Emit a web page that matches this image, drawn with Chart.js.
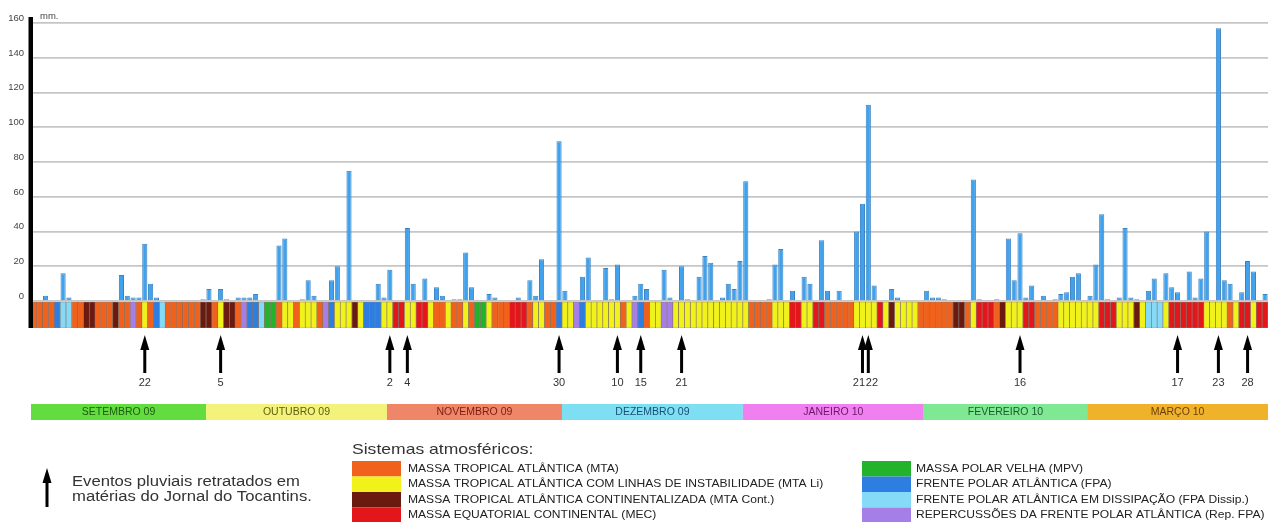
<!DOCTYPE html>
<html>
<head>
<meta charset="utf-8">
<script src="https://cdn.jsdelivr.net/npm/chart.js@4.4.1/dist/chart.umd.min.js"></script>
<style>
  html, body { margin: 0; padding: 0; background: #fff; }
  canvas { display: block; }
</style>
</head>
<body>
<canvas id="rainChart" width="1268" height="522"></canvas>
<script>
// ==========================
// Data
// ==========================

const monthNames = ["SETEMBRO 09", "OUTUBRO 09", "NOVEMBRO 09", "DEZEMBRO 09", "JANEIRO 10", "FEVEREIRO 10", "MARÇO 10"];
const monthDays = [30, 31, 30, 31, 31, 28, 31];

// daily rain (mm)
const rainSep = [0, 0, 3, 0, 0, 16, 2, 0, 0, 0, 0, 0, 0, 0, 0, 15, 3, 2, 2, 33, 10, 2, 0, 0, 0, 0, 0, 0, 0, 1];
const rainOct = [7, 0, 7, 1, 0, 2, 2, 2, 4, 0, 0, 0, 32, 36, 0, 0, 1, 12, 3, 0, 0, 12, 20, 0, 75, 0, 0, 0, 0, 10, 2];
const rainNov = [18, 0, 0, 42, 10, 0, 13, 0, 8, 3, 0, 1, 1, 28, 8, 0, 0, 4, 2, 0, 0, 0, 2, 0, 12, 3, 24, 0, 0, 92];
const rainDec = [6, 0, 0, 14, 25, 0, 0, 19, 1, 21, 0, 0, 3, 10, 7, 0, 0, 18, 2, 0, 20, 1, 0, 14, 26, 22, 0, 2, 10, 7, 23];
const rainJan = [69, 0, 0, 0, 1, 21, 30, 0, 6, 0, 14, 10, 0, 35, 6, 0, 6, 0, 0, 40, 56, 113, 9, 0, 0, 7, 2, 0, 0, 0, 0];
const rainFeb = [6, 2, 2, 1, 0, 0, 0, 0, 70, 1, 0, 0, 1, 0, 36, 12, 39, 2, 9, 0, 3, 0, 1, 4, 5, 14, 16, 0];
const rainMar = [3, 21, 50, 1, 0, 2, 42, 2, 1, 0, 6, 13, 0, 16, 8, 5, 0, 17, 2, 13, 40, 0, 157, 12, 10, 0, 5, 23, 17, 0, 4];

// atmospheric system of each day
const sysSep = ["mta", "mta", "mta", "mta", "fpa", "dis", "dis", "mta", "mta", "cnt",
  "cnt", "mta", "mta", "mta", "cnt", "mta", "mta", "rep", "mta", "li",
  "mta", "fpa", "dis", "mta", "mta", "mta", "mta", "mta", "mta", "cnt"];
const sysOct = ["cnt", "mta", "li", "cnt", "cnt", "mta", "rep", "fpa", "fpa", "dis",
  "mpv", "mpv", "mta", "li", "li", "mta", "li", "li", "li", "mta",
  "rep", "fpa", "li", "li", "li", "cnt", "li", "fpa", "fpa", "fpa", "li"];
const sysNov = ["li", "mec", "mec", "li", "li", "mec", "mec", "li", "mta", "mta",
  "li", "mta", "mta", "li", "mta", "mpv", "mpv", "li", "mta", "mta",
  "mta", "mec", "mec", "mec", "mta", "li", "li", "mta", "mta", "fpa"];
const sysDec = ["li", "li", "rep", "fpa", "li", "li", "li", "li", "li", "li",
  "mta", "li", "rep", "fpa", "mta", "li", "li", "rep", "rep", "li",
  "li", "li", "li", "li", "li", "li", "li", "li", "li", "li", "li"];
const sysJan = ["li", "mta", "mta", "mta", "mta", "li", "li", "li", "mec", "mec",
  "li", "li", "mec", "mec", "mta", "mta", "mta", "mta", "mta", "li",
  "li", "li", "li", "mec", "li", "cnt", "li", "li", "li", "li", "mta"];
const sysFeb = ["mta", "mta", "mta", "mta", "mta", "cnt", "cnt", "mta", "li", "mec",
  "mec", "mec", "mta", "cnt", "li", "li", "li", "mec", "mec", "mta",
  "mta", "mta", "mta", "li", "li", "li", "li", "li"];
const sysMar = ["li", "li", "mec", "mec", "mec", "li", "li", "li", "cnt", "li",
  "dis", "dis", "dis", "li", "mec", "mec", "mec", "mec", "mec", "mec",
  "li", "li", "li", "li", "mta", "li", "mec", "mec", "li", "mec", "mec"];

// rain events reported in the newspaper (position in the day list, label)
const eventIdx = [19, 32, 61, 64, 90, 100, 104, 111, 142, 143, 169, 196, 203, 208];
const eventLabels = ["22", "5", "2", "4", "30", "10", "15", "21", "21", "22", "16", "17", "23", "28"];

const yTicks = [0, 20, 40, 60, 80, 100, 120, 140, 160];

const legendLeft = [
  ["mta", "MASSA TROPICAL ATLÂNTICA (MTA)"],
  ["li", "MASSA TROPICAL ATLÂNTICA COM LINHAS DE INSTABILIDADE (MTA Li)"],
  ["cnt", "MASSA TROPICAL ATLÂNTICA CONTINENTALIZADA (MTA Cont.)"],
  ["mec", "MASSA EQUATORIAL CONTINENTAL (MEC)"],
];
const legendRight = [
  ["mpv", "MASSA POLAR VELHA (MPV)"],
  ["fpa", "FRENTE POLAR ATLÂNTICA (FPA)"],
  ["dis", "FRENTE POLAR ATLÂNTICA EM DISSIPAÇÃO (FPA Dissip.)"],
  ["rep", "REPERCUSSÕES DA FRENTE POLAR ATLÂNTICA (Rep. FPA)"],
];

// ==========================
// Styles
// ==========================

const systemColors = {
  mta: "#f0621c", li: "#f0f21a", cnt: "#6b1a10", mec: "#e3161b",
  mpv: "#22b32a", fpa: "#2d7ee0", dis: "#84daf7", rep: "#a67fe6",
};
const monthColors = ["#62dc3e", "#f3f37c", "#ef8668", "#7fdff2", "#f07ff0", "#7ee892", "#f0b22a"];
const monthTextColors = ["#1f5a14", "#5e5e10", "#7a1d10", "#1a4e78", "#6a1868", "#1b5a2c", "#6a3e0c"];

const STRIP_DEPTH = 15.5;
const FONT = "'Liberation Sans', Arial, sans-serif";

// ==========================
// Build
// ==========================

const rain = [].concat(rainSep, rainOct, rainNov, rainDec, rainJan, rainFeb, rainMar);
const systems = [].concat(sysSep, sysOct, sysNov, sysDec, sysJan, sysFeb, sysMar);

const labels = [];
monthDays.forEach((n, m) => {
  for (let d = 1; d <= n; d++) labels.push(monthNames[m] + " " + d);
});

// text drawn a little wider than the font, like the scanned original
function wideText(ctx, text, x, y, sx) {
  ctx.save();
  ctx.translate(x, y);
  ctx.scale(sx, 1);
  ctx.fillText(text, 0, 0);
  ctx.restore();
}

const overlay = {
  id: "overlay",
  afterDraw(chart) {
    const ctx = chart.ctx;
    const xs = chart.scales.x;
    const ys = chart.scales.y;
    const area = chart.chartArea;
    const cell = (area.right - area.left) / labels.length;

    ctx.save();

    // y axis bar
    ctx.fillStyle = "#000";
    ctx.fillRect(area.left - 2.5, 17, 4.5, area.bottom - 17);

    // tick labels
    ctx.fillStyle = "#444";
    ctx.font = "9.5px " + FONT;
    ctx.textAlign = "right";
    ctx.textBaseline = "bottom";
    yTicks.forEach((v) => ctx.fillText(String(v), 24, ys.getPixelForValue(v)));
    ctx.textAlign = "left";
    ctx.font = "9.5px " + FONT;
    ctx.fillText("mm.", 40, 21);

    // arrows
    const arrowXs = eventIdx.map((i) => xs.getPixelForValue(i));
    arrowXs.forEach((x) => drawArrow(ctx, x, 335, 373));

    // arrow labels (push apart when too close)
    const labelXs = arrowXs.slice();
    for (let i = 1; i < labelXs.length; i++) {
      const gap = labelXs[i] - labelXs[i - 1];
      if (gap < 13) {
        labelXs[i - 1] -= (13 - gap) / 2;
        labelXs[i] += (13 - gap) / 2;
      }
    }
    ctx.fillStyle = "#333";
    ctx.font = "11px " + FONT;
    ctx.textAlign = "center";
    ctx.textBaseline = "middle";
    eventLabels.forEach((t, i) => ctx.fillText(t, labelXs[i], 383));

    // month bands
    let start = 0;
    ctx.font = "10px " + FONT;
    monthDays.forEach((n, m) => {
      const x0 = xs.getPixelForValue(start) - cell / 2;
      const x1 = xs.getPixelForValue(start + n - 1) + cell / 2;
      ctx.fillStyle = monthColors[m];
      ctx.fillRect(x0, 404, x1 - x0, 16);
      ctx.fillStyle = monthTextColors[m];
      wideText(ctx, monthNames[m], (x0 + x1) / 2, 412.5, 1.05);
      start += n;
    });

    // legend: events
    drawArrow(ctx, 47, 468, 507);
    ctx.fillStyle = "#333";
    ctx.textAlign = "left";
    ctx.font = "14px " + FONT;
    wideText(ctx, "Eventos pluviais retratados em", 72, 482, 1.19);
    wideText(ctx, "matérias do Jornal do Tocantins.", 72, 497, 1.19);

    // legend: systems
    ctx.font = "15px " + FONT;
    wideText(ctx, "Sistemas atmosféricos:", 352, 450, 1.17);
    drawLegendColumn(ctx, legendLeft, 352, 408);
    drawLegendColumn(ctx, legendRight, 862, 916);

    ctx.restore();
  },
};

function drawArrow(ctx, x, top, bottom) {
  ctx.fillStyle = "#000";
  ctx.fillRect(x - 1.5, top + 10, 3, bottom - top - 10);
  ctx.beginPath();
  ctx.moveTo(x, top);
  ctx.lineTo(x - 4.5, top + 15);
  ctx.lineTo(x + 4.5, top + 15);
  ctx.closePath();
  ctx.fill();
}

function drawLegendColumn(ctx, items, boxX, textX) {
  ctx.font = "10.5px " + FONT;
  ctx.textBaseline = "middle";
  items.forEach(([key, text], i) => {
    const top = 461 + i * 15.5;
    ctx.fillStyle = systemColors[key];
    ctx.fillRect(boxX, top, 49, 15.5);
    ctx.fillStyle = "#222";
    wideText(ctx, text, textX, top + 8, 1.15);
  });
}

// ==========================
// Chart
// ==========================

new Chart(document.getElementById("rainChart"), {
  type: "bar",

  data: {
    labels: labels,

    datasets: [
      {
        label: "Precipitação",
        data: rain.map((v) => (v > 0 ? v : null)),
        backgroundColor: "#40a2ec",
        borderColor: "#3a82c2",
        borderWidth: 1,
        borderSkipped: "start",
        barPercentage: 0.88,
        categoryPercentage: 1,
        grouped: false,
      },
      {
        label: "Sistemas",
        data: systems.map(() => [-STRIP_DEPTH, 0]),
        backgroundColor: systems.map((s) => systemColors[s]),
        borderColor: "rgba(70,40,25,0.55)",
        borderWidth: 0.7,
        borderSkipped: false,
        barPercentage: 1,
        categoryPercentage: 1,
        grouped: false,
      },
    ],
  },

  options: {
    responsive: false,
    animation: false,

    layout: {
      padding: { left: 0, right: 0, top: 23, bottom: 194 },
    },

    plugins: {
      legend: { display: false },
      tooltip: { enabled: false },
    },

    scales: {
      x: {
        display: false,
        offset: true,
      },
      y: {
        min: -STRIP_DEPTH,
        max: 160,
        afterFit: (scale) => {
          scale.width = 31;
        },
        afterBuildTicks: (scale) => {
          scale.ticks = yTicks.map((v) => ({ value: v }));
        },
        ticks: { display: false },
        border: { display: false },
        grid: {
          color: "#c6c6c6",
          lineWidth: 1.8,
          drawTicks: false,
        },
      },
    },
  },

  plugins: [overlay],
});
</script>
</body>
</html>
